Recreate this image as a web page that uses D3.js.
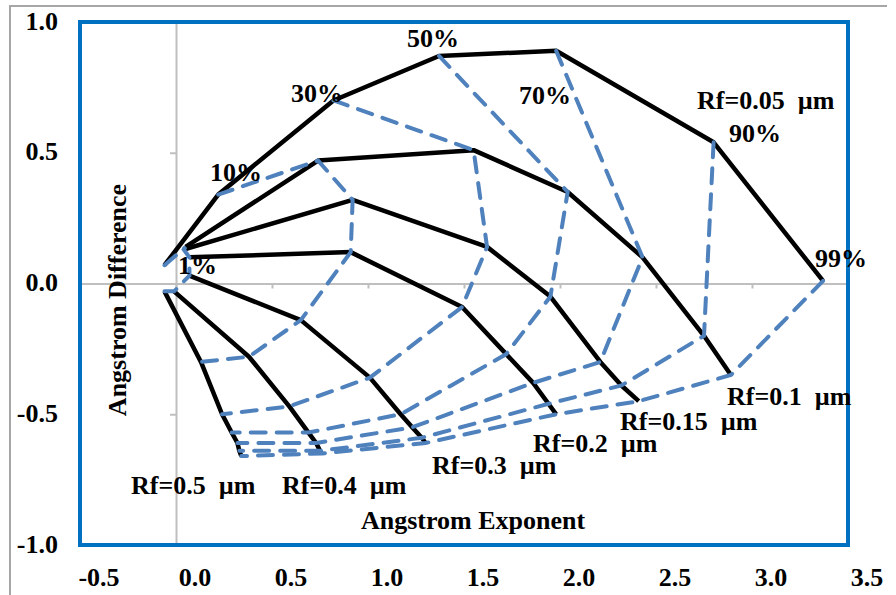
<!DOCTYPE html>
<html>
<head>
<meta charset="utf-8">
<script src="https://cdn.jsdelivr.net/npm/d3@7"></script>
<style>
  body { margin: 0; background: #fff; }
  text { font-family: "Liberation Serif", "Times New Roman", serif; font-weight: bold; fill: #000; }
</style>
</head>
<body>
<svg id="chart" width="896" height="595"></svg>
<script>
// Fine-mode radius (rows) and fine-mode fraction (columns)
const radii = ["0.05", "0.1", "0.15", "0.2", "0.3", "0.4", "0.5"];
const fractions = ["1%", "10%", "30%", "50%", "70%", "90%", "99%"];

// Angstrom exponent, one row per radius, one column per fraction
const angstromExponent = [
  [-0.06, 0.22, 0.82, 1.37, 1.98, 2.80, 3.37],
  [ 0.05, 0.74, 1.55, 2.04, 2.43, 2.75, 2.89],
  [ 0.04, 0.92, 1.62, 1.95, 2.21, 2.32, 2.41],
  [ 0.07, 0.91, 1.49, 1.72, 1.86, 1.94, 1.98],
  [ 0.07, 0.65, 1.01, 1.17, 1.23, 1.28, 1.30],
  [-0.01, 0.38, 0.59, 0.69, 0.73, 0.75, 0.76],
  [-0.06, 0.13, 0.24, 0.29, 0.32, 0.33, 0.34]
];

// Angstrom difference, same layout
const angstromDifference = [
  [ 0.07,  0.34,  0.70,  0.87,  0.89,  0.54,  0.01],
  [ 0.14,  0.47,  0.51,  0.35,  0.10, -0.20, -0.35],
  [ 0.13,  0.32,  0.14, -0.05, -0.30, -0.39, -0.45],
  [ 0.10,  0.12, -0.09, -0.27, -0.38, -0.46, -0.50],
  [ 0.03, -0.14, -0.36, -0.50, -0.55, -0.59, -0.61],
  [-0.03, -0.28, -0.47, -0.57, -0.61, -0.64, -0.65],
  [-0.03, -0.30, -0.50, -0.57, -0.61, -0.64, -0.66]
];

const xTicks = [-0.5, 0, 0.5, 1, 1.5, 2, 2.5, 3, 3.5];
const yTicks = [-1, -0.5, 0, 0.5, 1];

const svg = d3.select("#chart");
const x = d3.scaleLinear().domain([-0.5, 3.5]).range([80, 848]);
const y = d3.scaleLinear().domain([-1, 1]).range([545, 22]);

// outer chart frame (left and top edges visible)
svg.append("path")
  .attr("d", "M10,600V6H887")
  .attr("fill", "none").attr("stroke", "#a6a6a6").attr("stroke-width", 2);

// axis lines crossing at the origin
const gx = svg.append("g").attr("transform", `translate(0,${y(0)})`)
  .call(d3.axisBottom(x).tickValues(xTicks).tickSize(5).tickFormat(""));
const gy = svg.append("g").attr("transform", `translate(${x(0)},0)`)
  .call(d3.axisLeft(y).tickValues(yTicks.filter(v => v !== 0)).tickSize(6).tickFormat(""));
[gx, gy].forEach(g => {
  g.selectAll("path, line").attr("stroke", "#bfbfbf").attr("stroke-width", 2);
});

// tick labels
svg.append("g").selectAll("text").data(xTicks).join("text")
  .attr("x", d => x(d) + 19).attr("y", 577)
  .attr("text-anchor", "middle").attr("dominant-baseline", "central")
  .attr("font-size", 26)
  .text(d => d.toFixed(1));
svg.append("g").selectAll("text").data(yTicks).join("text")
  .attr("x", 58).attr("y", d => y(d) - 1)
  .attr("text-anchor", "end").attr("dominant-baseline", "central")
  .attr("font-size", 26)
  .text(d => d.toFixed(1));

// plot area border
svg.append("rect")
  .attr("x", 80).attr("y", 22).attr("width", 768).attr("height", 523)
  .attr("fill", "none").attr("stroke", "#0070c0").attr("stroke-width", 4);

const line = d3.line().x(d => x(d[0])).y(d => y(d[1]));

// constant-radius curves
const radiusCurves = radii.map((r, i) => angstromExponent[i].map((ae, j) => [ae, angstromDifference[i][j]]));
svg.append("g").selectAll("path").data(radiusCurves).join("path")
  .attr("d", line)
  .attr("fill", "none").attr("stroke", "#000").attr("stroke-width", 4.5)
  .attr("stroke-linejoin", "round");

// constant-fraction curves
const fractionCurves = fractions.map((f, j) => radii.map((r, i) => [angstromExponent[i][j], angstromDifference[i][j]]));
svg.append("g").selectAll("path").data(fractionCurves).join("path")
  .attr("d", line)
  .attr("fill", "none").attr("stroke", "#4f81bd").attr("stroke-width", 4)
  .attr("stroke-dasharray", "15,11").attr("stroke-linecap", "round");

// annotations
const notes = [
  ["10%", 210, 172], ["30%", 291, 93], ["50%", 407, 38], ["70%", 519, 95],
  ["90%", 729, 133], ["99%", 815, 258], ["1%", 178, 265],
  ["Rf=0.05\u00a0 µm", 697, 100], ["Rf=0.1\u00a0 µm", 727, 396],
  ["Rf=0.15\u00a0 µm", 620, 421], ["Rf=0.2\u00a0 µm", 533, 443],
  ["Rf=0.3\u00a0 µm", 432, 465], ["Rf=0.4\u00a0 µm", 282, 485],
  ["Rf=0.5\u00a0 µm", 131, 485]
];
svg.append("g").selectAll("text").data(notes).join("text")
  .attr("x", d => d[1]).attr("y", d => d[2])
  .attr("dominant-baseline", "central")
  .attr("font-size", 26)
  .text(d => d[0]);

// axis titles
svg.append("text")
  .attr("x", 473).attr("y", 520)
  .attr("text-anchor", "middle").attr("dominant-baseline", "central")
  .attr("font-size", 26)
  .text("Angstrom Exponent");
svg.append("text")
  .attr("transform", "translate(117,300) rotate(-90)")
  .attr("text-anchor", "middle").attr("dominant-baseline", "central")
  .attr("font-size", 26)
  .text("Angstrom Difference");
</script>
</body>
</html>
